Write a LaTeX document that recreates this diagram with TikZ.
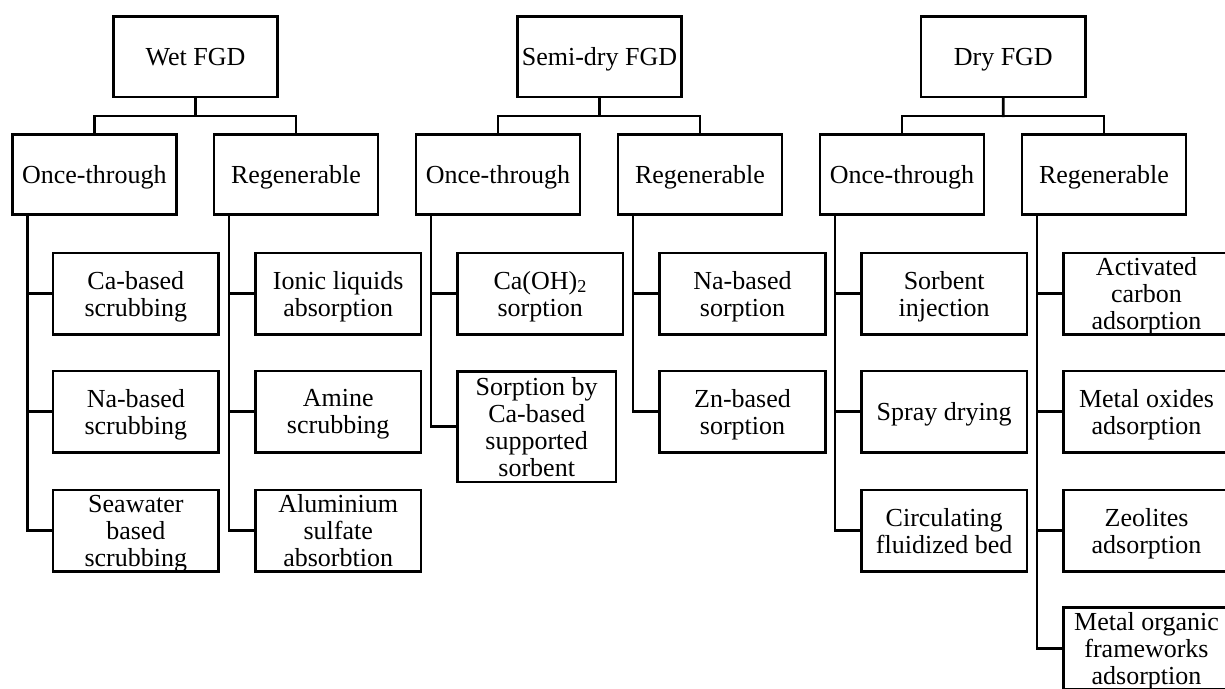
\documentclass[tikz,border=0pt]{standalone}
\usepackage{fontspec}
\setmainfont{Liberation Serif}
\usetikzlibrary{calc}
\tikzset{
  base/.style={draw=black, line width=2.7pt, fill=white, align=center, inner sep=0pt,
     text depth=0pt, font=\fontsize{26}{27}\selectfont},
  topbox/.style={base, minimum width=164.5pt, minimum height=80.6pt},
  midbox/.style={base, minimum width=164pt, minimum height=80pt},
  leafbox/.style={base, minimum width=165.6pt, minimum height=81.3pt},
  conn/.style={line width=2.7pt, line cap=rect},
}
\begin{document}
\begin{tikzpicture}[x=1pt,y=-1pt]
\useasboundingbox (0,0) rectangle (1225,688);
% top
\node[topbox] (wet) at (195.5,56.7) {Wet FGD};
\node[topbox] (semi) at (599.5,56.7) {Semi-dry FGD};
\node[topbox] (dry) at (1003.3,56.7) {Dry FGD};
% level 2
\node[midbox] (wo) at (94.3,174.7) {Once-through};
\node[midbox] (wr) at (296,174.7) {Regenerable};
\node[midbox] (so) at (498,174.7) {Once-through};
\node[midbox] (sr) at (700,174.7) {Regenerable};
\node[midbox] (do) at (902,174.7) {Once-through};
\node[midbox] (dr) at (1104,174.7) {Regenerable};
% leaves
\node[leafbox] (wo1) at (135.85,293.7) {Ca-based\\scrubbing};
\node[leafbox] (wo2) at (135.85,411.7) {Na-based\\scrubbing};
\node[leafbox] (wo3) at (135.85,530.5) {Seawater\\based\\scrubbing};
\node[leafbox] (wr1) at (338.2,293.7) {Ionic liquids\\absorption};
\node[leafbox] (wr2) at (338.2,411.7) {Amine\\scrubbing};
\node[leafbox] (wr3) at (338.2,530.5) {Aluminium\\sulfate\\absorbtion};
\node[leafbox] (so1) at (540.2,293.7) {Ca(OH)\textsubscript{2}\\sorption};
\node[base, minimum width=158.6pt, minimum height=110.6pt] (so2) at (536.7,426.7) {Sorption by\\Ca-based\\supported\\sorbent};
\node[leafbox] (sr1) at (742.5,293.7) {Na-based\\sorption};
\node[leafbox] (sr2) at (742.5,411.7) {Zn-based\\sorption};
\node[leafbox] (do1) at (944.2,293.7) {Sorbent\\injection};
\node[leafbox] (do2) at (944.2,411.7) {Spray drying};
\node[leafbox] (do3) at (944.2,530.5) {Circulating\\fluidized bed};
\node[leafbox] (dr1) at (1146.5,293.7) {Activated\\carbon\\adsorption};
\node[leafbox] (dr2) at (1146.5,411.7) {Metal oxides\\adsorption};
\node[leafbox] (dr3) at (1146.5,530.5) {Zeolites\\adsorption};
\node[leafbox] (dr4) at (1146.5,648.3) {Metal organic\\frameworks\\adsorption};
% top connectors
\foreach \t/\a/\b in {wet/wo/wr, semi/so/sr, dry/do/dr}{
  \coordinate (\t j) at ($(\t.south)!.5!(\t.south |- \a.north)$);
  \draw[conn] (\t.south) -- (\t j);
  \draw[conn] (\a.north) |- (\t j) -| (\b.north);
}
% trunks
\foreach \p in {wo,wr,so,sr,do,dr}{
  \coordinate (\p t) at ($(\p.south west)+(16.3,0)$);
}
\draw[conn] (wot) |- (wo1.west); \draw[conn] (wot) |- (wo2.west); \draw[conn] (wot) |- (wo3.west);
\draw[conn] (wrt) |- (wr1.west); \draw[conn] (wrt) |- (wr2.west); \draw[conn] (wrt) |- (wr3.west);
\draw[conn] (sot) |- (so1.west); \draw[conn] (sot) |- (so2.west);
\draw[conn] (srt) |- (sr1.west); \draw[conn] (srt) |- (sr2.west);
\draw[conn] (dot) |- (do1.west); \draw[conn] (dot) |- (do2.west); \draw[conn] (dot) |- (do3.west);
\draw[conn] (drt) |- (dr1.west); \draw[conn] (drt) |- (dr2.west); \draw[conn] (drt) |- (dr3.west); \draw[conn] (drt) |- (dr4.west);
\end{tikzpicture}
\end{document}
